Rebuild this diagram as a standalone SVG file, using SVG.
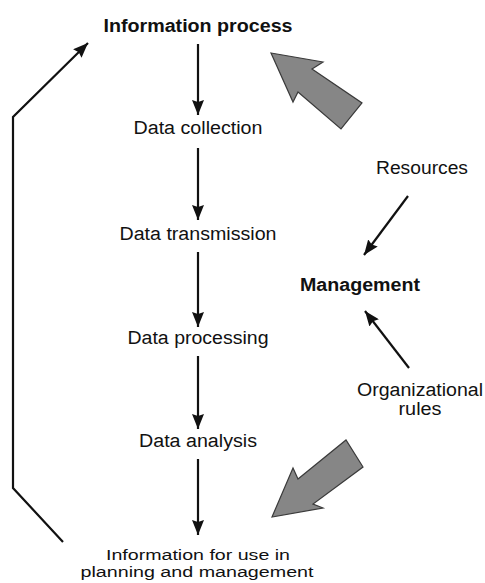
<svg xmlns="http://www.w3.org/2000/svg" width="485" height="583" viewBox="0 0 485 583">
  <style>
    text { font-family: "Liberation Sans", Arial, Helvetica, sans-serif; font-size: 18px; fill: #111; text-anchor: middle; }
    .b { font-weight: bold; }
    .sm { font-size: 15.2px; }
    .ln { stroke: #111; stroke-width: 2.2; fill: none; marker-end: url(#ah); }
    .big { fill: #868686; stroke: #3a3a3a; stroke-width: 1.2; stroke-linejoin: miter; }
  </style>
  <defs>
    <marker id="ah" viewBox="0 0 15 12" refX="15" refY="6" markerWidth="15" markerHeight="12" markerUnits="userSpaceOnUse" orient="auto">
      <path d="M0,0 L15,6 L0,12 L2,6 z" fill="#111"/>
    </marker>
  </defs>

  <rect width="485" height="583" fill="#fff"/>

  <!-- nodes -->
  <g id="information-process"><text class="b" x="198" y="32" textLength="189" lengthAdjust="spacingAndGlyphs">Information process</text></g>
  <g id="data-collection"><text x="198" y="134" textLength="129" lengthAdjust="spacingAndGlyphs">Data collection</text></g>
  <g id="data-transmission"><text x="198" y="240" textLength="157" lengthAdjust="spacingAndGlyphs">Data transmission</text></g>
  <g id="data-processing"><text x="198" y="344" textLength="141" lengthAdjust="spacingAndGlyphs">Data processing</text></g>
  <g id="data-analysis"><text x="198" y="447" textLength="118" lengthAdjust="spacingAndGlyphs">Data analysis</text></g>
  <g id="information-use">
    <text class="sm" x="198" y="560" textLength="184" lengthAdjust="spacingAndGlyphs">Information for use in</text>
    <text class="sm" x="197" y="577" textLength="233" lengthAdjust="spacingAndGlyphs">planning and management</text>
  </g>
  <g id="resources"><text x="422" y="174" textLength="92" lengthAdjust="spacingAndGlyphs">Resources</text></g>
  <g id="management"><text class="b" x="360" y="291" textLength="120" lengthAdjust="spacingAndGlyphs">Management</text></g>
  <g id="organizational-rules">
    <text x="420" y="396" textLength="126" lengthAdjust="spacingAndGlyphs">Organizational</text>
    <text x="420" y="415" textLength="43" lengthAdjust="spacingAndGlyphs">rules</text>
  </g>

  <!-- connectors -->
  <g id="connectors">
    <line class="ln" x1="198" y1="44" x2="198" y2="115"/>
    <line class="ln" x1="198" y1="148" x2="198" y2="220"/>
    <line class="ln" x1="198" y1="252" x2="198" y2="327"/>
    <line class="ln" x1="198" y1="356" x2="198" y2="429"/>
    <line class="ln" x1="198" y1="459" x2="198" y2="535"/>
    <polyline class="ln" points="63,542 13,488 13,117 88,43"/>
    <line class="ln" x1="408" y1="196" x2="364" y2="255"/>
    <line class="ln" x1="409" y1="368" x2="365" y2="311"/>
    <polygon class="big" points="271,53 323,62 312,69 362,103 341,129 298,92 293,102"/>
    <polygon class="big" points="272,517 293,468 298,479 346,440 363,467 313,504 323,508"/>
  </g>
</svg>
